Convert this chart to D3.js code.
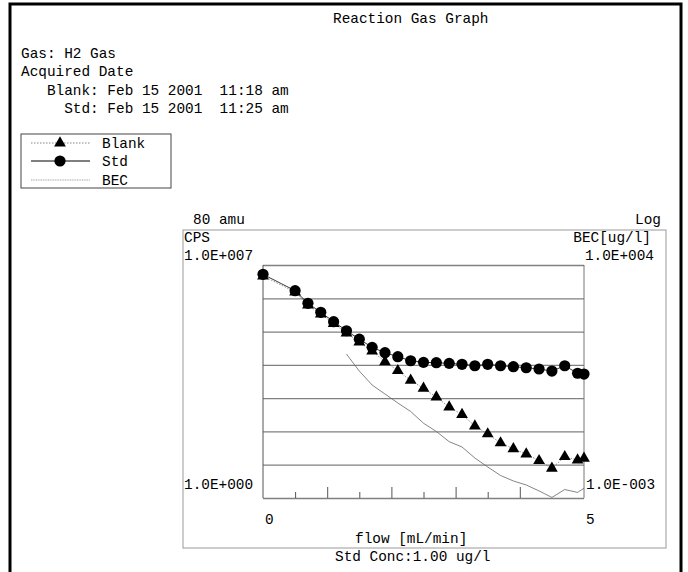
<!DOCTYPE html>
<html>
<head>
<meta charset="utf-8">
<script src="https://cdn.jsdelivr.net/npm/d3@7"></script>
<style>
html,body{margin:0;padding:0;background:#fff;}
svg text{font-family:"Liberation Mono","DejaVu Sans Mono",monospace;font-size:14.4px;fill:#000;white-space:pre;}
</style>
</head>
<body>
<svg id="chart" width="688" height="572"></svg>
<script>
// ---- data ----
const flow = [0, 0.5, 0.7, 0.9, 1.1, 1.3, 1.5, 1.7, 1.9, 2.1, 2.3, 2.5, 2.7, 2.9, 3.1, 3.3, 3.5, 3.7, 3.9, 4.1, 4.3, 4.5, 4.7, 4.9, 5.0];
const stdCps = [5.25e6, 1.69e6, 7.06e5, 3.79e5, 1.98e5, 1.06e5, 5.9e4, 3.36e4, 2.32e4, 1.76e4, 1.33e4, 1.19e4, 1.16e4, 1.11e4, 1.04e4, 9.4e3, 1.04e4, 9.4e3, 8.8e3, 8.2e3, 7.5e3, 6.5e3, 9.4e3, 5.6e3, 5.3e3];
const blankCps = [4.67e6, 1.54e6, 6.27e5, 3.37e5, 1.75e5, 9.0e4, 4.86e4, 2.6e4, 1.24e4, 6.67e3, 3.43e3, 1.97e3, 1.07e3, 542, 322, 145, 84, 45, 30, 21, 13.2, 7.8, 17.4, 13.8, 15.6];
const becFlow = [1.3, 1.5, 1.7, 1.9, 2.1, 2.3, 2.5, 2.7, 2.9, 3.1, 3.3, 3.5, 3.7, 3.9, 4.1, 4.3, 4.5, 4.7, 4.9, 5.0];
const becVal = [21.2, 6.5, 2.48, 1.33, 0.716, 0.397, 0.176, 0.0996, 0.0492, 0.0341, 0.0159, 0.00855, 0.00475, 0.00325, 0.00246, 0.00163, 0.00104, 0.0018, 0.00147, 0.00196];
const cpsDecades = [1, 1e1, 1e2, 1e3, 1e4, 1e5, 1e6, 1e7];
const flowTicks = [0.5, 1.0, 1.5, 2.0, 2.5, 3.0, 3.5, 4.0];
const flowLabels = [0, 5];
const headerLines = ["Gas: H2 Gas", "Acquired Date", "   Blank: Feb 15 2001  11:18 am", "     Std: Feb 15 2001  11:25 am"];
const legendItems = ["Blank", "Std", "BEC"];

// ---- layout ----
const svg = d3.select("#chart");
const L = 263, R = 584, T = 265, B = 498;
const x = d3.scaleLinear().domain([0, 5]).range([L, R]);
const yL = d3.scaleLog().domain([1, 1e7]).range([B, T]);
const yR = d3.scaleLog().domain([1e-3, 1e4]).range([B, T]);

// page frame
svg.append("rect").attr("x", 10).attr("y", 4).attr("width", 671).attr("height", 600)
  .attr("fill", "none").attr("stroke", "#000").attr("stroke-width", 3);

// title
svg.append("text").attr("x", 333).attr("y", 23).text("Reaction Gas Graph");

// header
headerLines.forEach((t, i) => {
  svg.append("text").attr("x", 21).attr("y", 58 + i * 18.3).text(t);
});

// legend
svg.append("rect").attr("x", 21).attr("y", 134).attr("width", 150).attr("height", 54)
  .attr("fill", "none").attr("stroke", "#444").attr("stroke-width", 1);
const legY = [143, 161, 180];
legendItems.forEach((name, i) => {
  const ly = legY[i];
  const ln = svg.append("line").attr("x1", 31).attr("x2", 90).attr("y1", ly).attr("y2", ly);
  if (i === 0) ln.attr("stroke", "#666").attr("stroke-width", 0.8).attr("stroke-dasharray", "1.5,1.5");
  else if (i === 1) ln.attr("stroke", "#000").attr("stroke-width", 1);
  else ln.attr("stroke", "#777").attr("stroke-width", 0.7).attr("stroke-dasharray", "1,0.7");
  if (i === 0) svg.append("path").attr("d", d3.symbol(d3.symbolTriangle, 60)()).attr("transform", `translate(60,${ly})`).attr("fill", "#000");
  if (i === 1) svg.append("circle").attr("cx", 60).attr("cy", ly).attr("r", 5.6).attr("fill", "#000");
  svg.append("text").attr("x", 102).attr("y", ly + 5).text(name);
});

// chart box
svg.append("rect").attr("x", 183).attr("y", 230).attr("width", 483).attr("height", 318)
  .attr("fill", "none").attr("stroke", "#999").attr("stroke-width", 1);

svg.append("text").attr("x", 193).attr("y", 224).text("80 amu");
svg.append("text").attr("x", 661).attr("y", 224).attr("text-anchor", "end").text("Log");
svg.append("text").attr("x", 184).attr("y", 242).text("CPS");
svg.append("text").attr("x", 184).attr("y", 260).text("1.0E+007");
svg.append("text").attr("x", 651).attr("y", 242).attr("text-anchor", "end").text("BEC[ug/l]");
svg.append("text").attr("x", 654).attr("y", 260).attr("text-anchor", "end").text("1.0E+004");
svg.append("text").attr("x", 184).attr("y", 489).text("1.0E+000");
svg.append("text").attr("x", 586).attr("y", 489).text("1.0E-003");

// grid lines via axis
const grid = svg.append("g").attr("transform", `translate(${L},0)`)
  .call(d3.axisLeft(yL).tickValues(cpsDecades).tickSize(-(R - L)).tickFormat(""));
grid.select(".domain").remove();
grid.selectAll(".tick line").attr("stroke", "#808080").attr("stroke-width", 1.3);

// plot border (left & right verticals)
svg.append("line").attr("x1", L).attr("x2", L).attr("y1", T).attr("y2", B).attr("stroke", "#555").attr("stroke-width", 1);
svg.append("line").attr("x1", R).attr("x2", R).attr("y1", T).attr("y2", B).attr("stroke", "#777").attr("stroke-width", 1);

// bottom ticks (pointing up)
const xa = svg.append("g").attr("transform", `translate(0,${B})`)
  .call(d3.axisTop(x).tickValues(flowTicks).tickSize(6).tickFormat(""));
xa.select(".domain").remove();
xa.selectAll(".tick line").attr("stroke", "#555").attr("stroke-width", 1)
  .attr("y2", d => (Math.abs(d % 1) < 1e-9 ? -11 : -6));

flowLabels.forEach(v => {
  svg.append("text").attr("x", x(v) + 2).attr("y", 524).text(String(v));
});
svg.append("text").attr("x", 355).attr("y", 543).text("flow [mL/min]");
svg.append("text").attr("x", 335).attr("y", 561).text("Std Conc:1.00 ug/l");

// BEC line
const becLine = d3.line().x((d, i) => x(becFlow[i])).y(d => yR(d));
svg.append("path").datum(becVal).attr("d", becLine)
  .attr("fill", "none").attr("stroke", "#666").attr("stroke-width", 0.8);

// Blank line + triangles
const lineL = d3.line().x((d, i) => x(flow[i])).y(d => yL(d));
svg.append("path").datum(blankCps).attr("d", lineL)
  .attr("fill", "none").attr("stroke", "#777").attr("stroke-width", 0.8).attr("stroke-dasharray", "1.5,1.5");
svg.append("path").datum(stdCps).attr("d", lineL)
  .attr("fill", "none").attr("stroke", "#222").attr("stroke-width", 0.9);

svg.selectAll(".tri").data(blankCps).enter().append("path")
  .attr("d", d3.symbol(d3.symbolTriangle, 60)())
  .attr("transform", (d, i) => `translate(${x(flow[i])},${yL(d)})`)
  .attr("fill", "#000");
svg.selectAll(".dot").data(stdCps).enter().append("circle")
  .attr("cx", (d, i) => x(flow[i])).attr("cy", d => yL(d)).attr("r", 5.6)
  .attr("fill", "#000");
</script>
</body>
</html>
